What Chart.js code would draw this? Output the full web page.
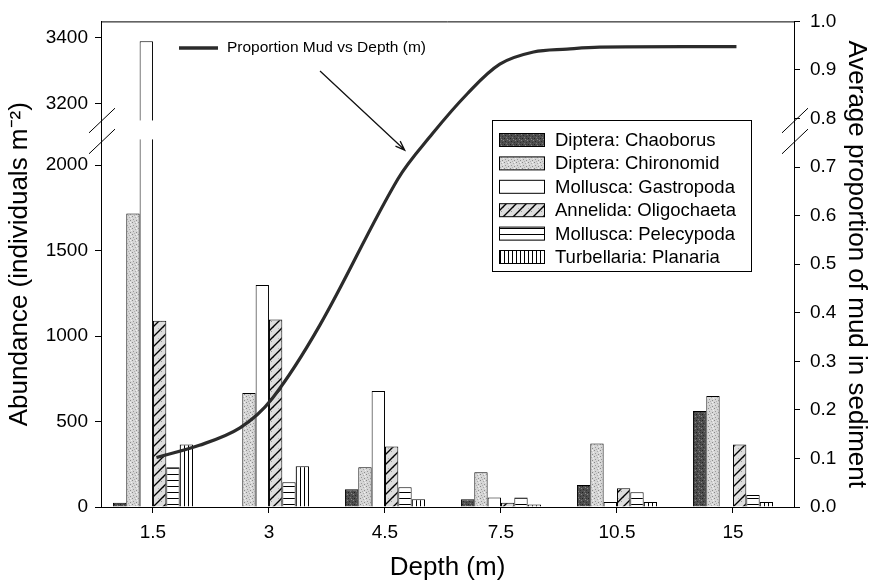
<!DOCTYPE html>
<html>
<head>
<meta charset="utf-8">
<script src="https://cdn.jsdelivr.net/npm/chart.js@4.4.1/dist/chart.umd.min.js"></script>
<style>
  html, body { margin: 0; padding: 0; background: #fff; }
  canvas { display: block; }
</style>
</head>
<body>
<canvas id="chart" width="872" height="581"></canvas>
<script>
var depths = ["1.5", "3", "4.5", "7.5", "10.5", "15"];
var chaoborus = [25, 0, 104, 45, 128, 562];
var chironomid = [1716, 667, 232, 203, 371, 649];
var gastropoda = [3390, 1298, 678, 55, 29, 0];
var oligochaeta = [1090, 1096, 354, 25, 110, 365];
var pelecypoda = [232, 145, 116, 55, 87, 70];
var planaria = [365, 238, 45, 15, 29, 29];

// mud curve at positions along the depth axis (0 = 1.5 m ... 5 = 15 m)
var mudAt = [0.03, 0.4, 0.75, 1.03, 1.44, 2.11, 2.41, 2.71, 2.99, 3.28, 3.57, 3.85, 5.03];
var mudProportion = [0.102, 0.127, 0.163, 0.224, 0.375, 0.675, 0.769, 0.851, 0.912, 0.937, 0.943, 0.947, 0.948];

var leftTicks = [0, 500, 1000, 1500, 2000, 3200, 3400];
var yBreak = { low: 2150, high: 3150, max: 3450, fLow: 0.757, fHigh: 0.796 };

var FONT = "'Liberation Sans', Arial, Helvetica, sans-serif";
var ink = "#000";

function brokenDecimal(v) {
  if (v <= yBreak.low) return v / yBreak.low * yBreak.fLow;
  if (v >= yBreak.high) return yBreak.fHigh + (v - yBreak.high) / (yBreak.max - yBreak.high) * (1 - yBreak.fHigh);
  return yBreak.fLow + (v - yBreak.low) / (yBreak.high - yBreak.low) * (yBreak.fHigh - yBreak.fLow);
}
function brokenValue(d) {
  if (d <= yBreak.fLow) return d / yBreak.fLow * yBreak.low;
  if (d >= yBreak.fHigh) return yBreak.high + (d - yBreak.fHigh) / (1 - yBreak.fHigh) * (yBreak.max - yBreak.high);
  return yBreak.low + (d - yBreak.fLow) / (yBreak.fHigh - yBreak.fLow) * (yBreak.high - yBreak.low);
}

class BrokenScale extends Chart.LinearScale {
  getPixelForValue(value) {
    if (value === null || value === undefined) return NaN;
    return this.getPixelForDecimal(brokenDecimal(value));
  }
  getValueForPixel(pixel) {
    return brokenValue(this.getDecimalForPixel(pixel));
  }
}
BrokenScale.id = "broken";
BrokenScale.defaults = Chart.LinearScale.defaults;
Chart.register(BrokenScale);

var ctx = document.getElementById("chart").getContext("2d");

function tile(w, h, draw) {
  var c = document.createElement("canvas");
  c.width = w;
  c.height = h;
  draw(c.getContext("2d"), w, h);
  return ctx.createPattern(c, "repeat");
}
function speckle(g, w, h, base, dots) {
  g.fillStyle = base;
  g.fillRect(0, 0, w, h);
  for (var i = 0; i < dots.length; i++) {
    g.fillStyle = dots[i][2];
    g.fillRect(dots[i][0], dots[i][1], 1, 1);
  }
}

var darkFill = tile(6, 6, function (g, w, h) {
  speckle(g, w, h, "#4e4e4e", [[0, 0, "#222"], [3, 1, "#888"], [1, 3, "#2a2a2a"], [4, 4, "#333"], [5, 2, "#8a8a8a"], [2, 5, "#777"], [4, 0, "#3a3a3a"]]);
});
var lightFill = tile(6, 6, function (g, w, h) {
  speckle(g, w, h, "#d6d6d6", [[0, 0, "#888"], [3, 1, "#aaa"], [1, 3, "#999"], [4, 4, "#8c8c8c"], [5, 2, "#eee"], [2, 5, "#b0b0b0"], [4, 0, "#f2f2f2"]]);
});
var hatchFill = tile(10, 10, function (g, w, h) {
  speckle(g, w, h, "#dedede", [[1, 1, "#999"], [6, 3, "#aaa"], [3, 7, "#999"], [8, 8, "#b0b0b0"]]);
  g.strokeStyle = "#000";
  g.lineWidth = 1.4;
  g.beginPath();
  g.moveTo(-2, 12); g.lineTo(12, -2);
  g.moveTo(-7, 7); g.lineTo(7, -7);
  g.moveTo(3, 17); g.lineTo(17, 3);
  g.stroke();
});
var horizFill = tile(4, 6, function (g, w, h) {
  g.fillStyle = "#fff"; g.fillRect(0, 0, w, h);
  g.fillStyle = "#000"; g.fillRect(0, 0, w, 1);
});
var vertFill = tile(4, 4, function (g, w, h) {
  g.fillStyle = "#fff"; g.fillRect(0, 0, w, h);
  g.fillStyle = "#000"; g.fillRect(0, 0, 1, h);
});

function barSet(label, values, fill) {
  return {
    type: "bar",
    label: label,
    data: values.map(function (v, i) { return { x: i, y: v }; }),
    backgroundColor: fill,
    borderColor: ink,
    borderWidth: 1,
    categoryPercentage: 0.69,
    barPercentage: 1,
    xAxisID: "x",
    yAxisID: "y",
    order: 1,
  };
}

var breakPlugin = {
  id: "axisBreak",
  afterDatasetsDraw: function (chart) {
    var y = chart.scales.y;
    var top = y.getPixelForValue(yBreak.high);
    var bot = y.getPixelForValue(yBreak.low);
    var c = chart.ctx;
    c.save();
    c.fillStyle = "#fff";
    chart.data.datasets.forEach(function (ds, di) {
      if (ds.type !== "bar") return;
      chart.getDatasetMeta(di).data.forEach(function (bar, i) {
        if (ds.data[i].y > yBreak.high) {
          c.fillRect(bar.x - bar.width / 2 - 1, top, bar.width + 2, bot - top);
        }
      });
    });
    c.restore();
  },
  afterDraw: function (chart) {
    var y = chart.scales.y;
    var a = chart.chartArea;
    var top = y.getPixelForValue(yBreak.high);
    var bot = y.getPixelForValue(yBreak.low);
    var c = chart.ctx;
    c.save();
    c.strokeStyle = ink;
    c.lineWidth = 1;
    c.beginPath();
    c.moveTo(a.left, a.top + 0.5);
    c.lineTo(a.right, a.top + 0.5);
    c.stroke();
    [a.left, a.right].forEach(function (ax) {
      [top + 1, bot + 3].forEach(function (yy) {
        c.beginPath();
        c.moveTo(ax - 12, yy + 12 * 0.95);
        c.lineTo(ax + 14, yy - 14 * 0.95);
        c.stroke();
      });
    });
    c.restore();
  },
};

var notesPlugin = {
  id: "notes",
  afterDraw: function (chart) {
    var c = chart.ctx;
    var x = chart.scales.x;
    var yr = chart.scales.y1;
    c.save();
    c.strokeStyle = "#2b2b2b";
    c.lineWidth = 3.5;
    c.beginPath();
    c.moveTo(179, 48);
    c.lineTo(218, 48);
    c.stroke();
    c.fillStyle = ink;
    c.font = "15.5px " + FONT;
    c.textBaseline = "middle";
    c.fillText("Proportion Mud vs Depth (m)", 227, 48);
    // arrow pointing at the curve
    var x0 = x.getPixelForValue(1.44), y0 = yr.getPixelForValue(0.898);
    var x1 = x.getPixelForValue(2.17), y1 = yr.getPixelForValue(0.735);
    var ang = Math.atan2(y1 - y0, x1 - x0);
    c.strokeStyle = "#111";
    c.lineWidth = 1.3;
    c.beginPath();
    c.moveTo(x0, y0);
    c.lineTo(x1, y1);
    c.moveTo(x1 - 10 * Math.cos(ang - 0.35), y1 - 10 * Math.sin(ang - 0.35));
    c.lineTo(x1, y1);
    c.lineTo(x1 - 10 * Math.cos(ang + 0.35), y1 - 10 * Math.sin(ang + 0.35));
    c.stroke();

    // legend box
    var lx = 492, ly = 120, lw = 259, rowH = 23.4;
    var bars = chart.data.datasets.filter(function (d) { return d.type === "bar"; });
    var lh = 20 + rowH * (bars.length - 1) + 14;
    c.fillStyle = "#fff";
    c.fillRect(lx, ly, lw, lh);
    c.strokeStyle = ink;
    c.lineWidth = 1;
    c.strokeRect(lx + 0.5, ly + 0.5, lw, lh);
    c.font = "18.5px " + FONT;
    bars.forEach(function (d, i) {
      var ry = ly + 20 + rowH * i;
      c.fillStyle = d.backgroundColor;
      c.fillRect(499, ry - 6.5, 45, 13);
      c.strokeRect(499.5, ry - 6.5, 45, 13);
      c.fillStyle = ink;
      c.fillText(d.label, 555, ry + 1);
    });
    c.restore();
  },
};

var tickFont = { family: FONT, size: 19 };
var titleFont = { family: FONT, size: 26 };

new Chart(ctx, {
  type: "bar",
  data: {
    datasets: [
      {
        type: "line",
        label: "Proportion Mud vs Depth (m)",
        data: mudAt.map(function (x, i) { return { x: x, y: mudProportion[i] }; }),
        borderColor: "#2b2b2b",
        borderWidth: 3.2,
        pointRadius: 0,
        fill: false,
        tension: 0.35,
        xAxisID: "x",
        yAxisID: "y1",
        order: 0,
      },
      barSet("Diptera: Chaoborus", chaoborus, darkFill),
      barSet("Diptera: Chironomid", chironomid, lightFill),
      barSet("Mollusca: Gastropoda", gastropoda, "#fff"),
      barSet("Annelida: Oligochaeta", oligochaeta, hatchFill),
      barSet("Mollusca: Pelecypoda", pelecypoda, horizFill),
      barSet("Turbellaria: Planaria", planaria, vertFill),
    ],
  },
  options: {
    responsive: false,
    animation: false,
    devicePixelRatio: 1,
    events: [],
    layout: { padding: { top: 17, left: 0, right: 0, bottom: 0 } },
    plugins: { legend: { display: false }, tooltip: { enabled: false } },
    scales: {
      x: {
        type: "linear",
        position: "bottom",
        offset: false,
        min: -0.448,
        max: 5.526,
        afterBuildTicks: function (s) {
          s.ticks = depths.map(function (d, i) { return { value: i }; });
        },
        ticks: {
          callback: function (v) { return depths[v]; },
          font: tickFont,
          color: ink,
          padding: 8,
          maxRotation: 0,
        },
        grid: { offset: false, drawOnChartArea: false, tickLength: 6, tickColor: ink },
        border: { color: ink, width: 1 },
        title: { display: true, text: "Depth (m)", font: { family: FONT, size: 26, lineHeight: 1 }, color: ink, padding: { top: 0, bottom: 0 } },
        afterFit: function (s) { s.height = 74; },
      },
      y: {
        type: "broken",
        position: "left",
        min: 0,
        max: yBreak.max,
        afterBuildTicks: function (s) {
          s.ticks = leftTicks.map(function (v) { return { value: v }; });
        },
        ticks: {
          callback: function (v) { return String(v); },
          font: tickFont,
          color: ink,
          padding: 7,
        },
        grid: { drawOnChartArea: false, tickLength: 6, tickColor: ink },
        border: { color: ink, width: 1 },
        title: { display: true, text: "Abundance (individuals m\u207B\u00B2)", font: titleFont, color: ink, padding: { top: 4, bottom: 0 } },
        afterFit: function (s) { s.width = 101; },
      },
      y1: {
        type: "linear",
        position: "right",
        min: 0,
        max: 1,
        ticks: {
          stepSize: 0.1,
          callback: function (v) { return v.toFixed(1); },
          font: tickFont,
          color: ink,
          padding: 10,
        },
        grid: { drawOnChartArea: false, tickLength: 6, tickColor: ink },
        border: { color: ink, width: 1 },
        title: { display: true, text: "Average proportion of mud in sediment", font: titleFont, color: ink, padding: { top: 0, bottom: 0 } },
        afterFit: function (s) { s.width = 78; },
      },
    },
  },
  plugins: [breakPlugin, notesPlugin],
});
</script>
</body>
</html>
